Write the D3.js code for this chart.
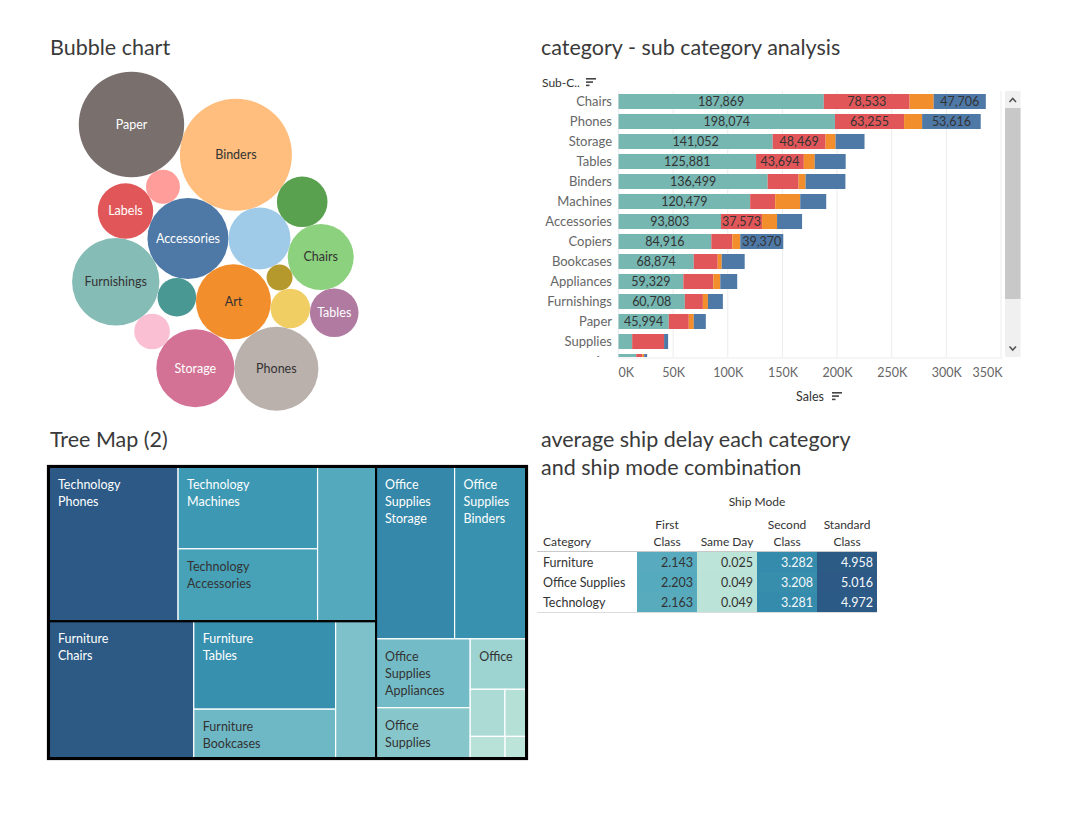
<!DOCTYPE html>
<html><head><meta charset="utf-8">
<script src="https://cdn.jsdelivr.net/npm/d3@7"></script>
<style>body{margin:0;background:#fff;}</style>
</head><body>
<svg id="c" width="1078" height="824"></svg>
<script>
// ---------------- DATA ----------------
const subCategories = ["Accessories","Appliances","Art","Binders","Bookcases","Chairs","Copiers","Envelopes","Fasteners","Furnishings","Labels","Machines","Paper","Phones","Storage","Supplies","Tables"];
const subCategoryParent = ["Technology","Office Supplies","Office Supplies","Office Supplies","Furniture","Furniture","Technology","Office Supplies","Office Supplies","Furniture","Office Supplies","Technology","Office Supplies","Technology","Office Supplies","Office Supplies","Furniture"];
// bubble size measure
const bubbleSizes = [797,467,683,1523,311,529,82,190,181,927,373,140,1349,857,739,154,287];
// treemap size measure (sales, read from tile areas)
const subCategorySales = [167380,107532,27119,203413,114880,328449,149528,16476,7500,91705,12486,189239,78479,330007,223844,46674,206966];
const categoryNames = ["Furniture","Office Supplies","Technology"];

const barCategories = ["Chairs","Phones","Storage","Tables","Binders","Machines","Accessories","Copiers","Bookcases","Appliances","Furnishings","Paper","Supplies","Art"];
const shipModeStack = ["Standard Class","Second Class","Same Day","First Class"];
const standardClassSales = [187869,198074,141052,125881,136499,120479,93803,84916,68874,59329,60708,45994,12500,16200];
const secondClassSales   = [78533,63255,48469,43694,28300,22900,37573,19200,21900,27400,16500,18300,29200,5500];
const sameDaySales       = [22000,16500,9100,10000,6400,22900,13700,7300,3700,6400,4600,4600,0,1800];
const firstClassSales    = [47706,53616,26500,28300,36432,23800,22900,39370,21000,15500,13700,11000,3700,2700];
const salesTicks = [0,50000,100000,150000,200000,250000,300000,350000];

const shipModes = ["First Class","Same Day","Second Class","Standard Class"];
const delayFurniture = [2.143,0.025,3.282,4.958];
const delayOfficeSupplies = [2.203,0.049,3.208,5.016];
const delayTechnology = [2.163,0.049,3.281,4.972];

// ---------------- STYLE ----------------
const FONT = "Lato, 'Noto Sans', sans-serif";
const tableau20 = ["#4e79a7","#a0cbe8","#f28e2b","#ffbe7d","#59a14f","#8cd17d","#b6992d","#f1ce63","#499894","#86bcb6","#e15759","#ff9d9a","#79706e","#bab0ac","#d37295","#fabfd2","#b07aa1"];
const shipColors = {"Standard Class":"#76b7b2","Second Class":"#e15759","Same Day":"#f28e2b","First Class":"#4e79a7"};
const blueTeal = ["#bce4d8","#aedcd5","#a1d5d2","#95cecf","#89c8cc","#7ec1ca","#72bac6","#66b2c2","#59acbe","#4ba5ba","#419eb6","#3b96b2","#358ead","#3586a7","#347ea1","#32779b","#316f96","#2f6790","#2d608a","#2c5985"];
const blueTealInterp = d3.interpolateRgbBasis(blueTeal);

const svg = d3.select("#c").style("font-family", FONT);
function measure(t, size) {
  const el = svg.append("text").attr("font-size", size).attr("font-family", FONT).text(t);
  const w = el.node().getComputedTextLength(); el.remove(); return w;
}

// ---------------- TITLES ----------------
const titleG = svg.append("g").attr("font-size", 21.5).attr("fill", "#3a3a3a");
titleG.append("text").attr("x", 50).attr("y", 55).text("Bubble chart");
titleG.append("text").attr("x", 541).attr("y", 55).text("category - sub category analysis");
titleG.append("text").attr("x", 50).attr("y", 447).text("Tree Map (2)");
titleG.append("text").attr("x", 541).attr("y", 447).text("average ship delay each category");
titleG.append("text").attr("x", 541).attr("y", 475).text("and ship mode combination");

// ---------------- BUBBLE CHART ----------------
// front-chain circle packing (Wang et al.): each circle, in data order, is placed tangent to
// the chain circle nearest the origin and its successor.
function frontChainPack(circles) {
  const n = circles.length;
  const intersects = (a, b) => { const dr = a.r + b.r - 1e-6, dx = b.x - a.x, dy = b.y - a.y; return dr > 0 && dr * dr > dx * dx + dy * dy; };
  const place = (m, nn, c) => {
    const dx = nn.x - m.x, dy = nn.y - m.y, D = Math.hypot(dx, dy);
    const ux = dx / D, uy = dy / D;
    const dm = m.r + c.r, dn = nn.r + c.r;
    const a = (dm * dm - dn * dn + D * D) / (2 * D);
    const h = Math.sqrt(Math.max(0, dm * dm - a * a));
    c.x = m.x + a * ux - h * uy;
    c.y = m.y + a * uy + h * ux;
  };
  const A = circles[0]; A.x = -A.r; A.y = 0;
  if (n < 2) return;
  const B = circles[1]; B.x = B.r; B.y = 0;
  if (n < 3) return;
  const C = circles[2]; place(A, B, C);
  let a = {_: A}, b = {_: B}, c = {_: C};
  a.next = c; c.next = b; b.next = a;
  a.previous = b; c.previous = a; b.previous = c;
  const pickNearest = () => {
    let best = a, bd = Infinity, node = a;
    do { const d = node._.x * node._.x + node._.y * node._.y; if (d < bd) { bd = d; best = node; } node = node.next; } while (node !== a);
    return best;
  };
  let m = pickNearest();
  for (let i = 3; i < n; ++i) {
    const cc = circles[i];
    let nn = m.next;
    while (true) {
      place(m._, nn._, cc);
      let j = nn.next, k = m.previous, sj = nn._.r, sk = m._.r, hit = false;
      while (j !== m && k !== nn && j !== k.next) {
        if (sj <= sk) {
          if (intersects(j._, cc)) { nn = j; m.next = nn; nn.previous = m; hit = true; break; }
          sj += j._.r; j = j.next;
        } else {
          if (intersects(k._, cc)) { m = k; m.next = nn; nn.previous = m; hit = true; break; }
          sk += k._.r; k = k.previous;
        }
      }
      if (!hit) {
        let bad = null, node = nn.next;
        while (node !== m) { if (intersects(node._, cc)) { bad = node; break; } node = node.next; }
        if (bad) { nn = bad; m.next = nn; nn.previous = m; continue; }
        break;
      }
    }
    const node = {_: cc, previous: m, next: nn};
    m.next = node; nn.previous = node;
    a = node;
    m = pickNearest();
  }
}

(function(){
  const rScale = d3.scaleSqrt().domain([0, d3.max(bubbleSizes)]).range([0, 56]);
  const nodes = subCategories.map((name, i) => ({name, value: bubbleSizes[i], r: rScale(bubbleSizes[i]), color: tableau20[i]}));
  frontChainPack(nodes);
  const x0 = d3.min(nodes, d => d.x - d.r), x1 = d3.max(nodes, d => d.x + d.r);
  const y0 = d3.min(nodes, d => d.y - d.r), y1 = d3.max(nodes, d => d.y + d.r);
  const g = svg.append("g").attr("transform", `translate(${215.3 - (x0 + x1) / 2},${241.3 - (y0 + y1) / 2})`);
  const gs = g.selectAll("g").data(nodes).join("g").attr("transform", d => `translate(${d.x},${d.y})`);
  gs.append("circle").attr("r", d => d.r).attr("fill", d => d.color);
  gs.each(function(d){
    const w = measure(d.name, 12.5);
    if (w <= 2 * d.r - 6) {
      d3.select(this).append("text").attr("text-anchor", "middle").attr("dy", "0.35em")
        .attr("font-size", 12.5)
        .attr("fill", d3.lab(d.color).l < 65 ? "#ffffff" : "#333333")
        .text(d.name);
    }
  });
})();

// ---------------- STACKED BAR CHART ----------------
(function(){
  const rows = barCategories.map((c, i) => ({
    cat: c,
    "Standard Class": standardClassSales[i],
    "Second Class": secondClassSales[i],
    "Same Day": sameDaySales[i],
    "First Class": firstClassSales[i]
  }));
  const x = d3.scaleLinear().domain([0, 350000]).range([618.5, 1001]);
  const y = d3.scaleBand().domain(barCategories).range([91.5, 371.5]).paddingInner(0.25).paddingOuter(0.125);
  const stack = d3.stack().keys(shipModeStack)(rows);

  svg.append("text").attr("x", 542).attr("y", 87).attr("font-size", 12).attr("fill", "#333").text("Sub-C..");
  const sortIcon = (x0, y0) => {
    [10, 7, 3.5].forEach((w, k) => svg.append("rect").attr("x", x0).attr("y", y0 + k * 3.3).attr("width", w).attr("height", 1.6).attr("fill", "#444"));
  };
  sortIcon(586, 78);

  svg.append("defs").append("clipPath").attr("id", "barclip").append("rect").attr("x", 530).attr("y", 91).attr("width", 474).attr("height", 266);

  svg.append("g").selectAll("line").data(salesTicks).join("line")
    .attr("x1", d => x(d)).attr("x2", d => x(d)).attr("y1", 91).attr("y2", 357)
    .attr("stroke", "#ececec").attr("stroke-width", 1);
  svg.append("line").attr("x1", 618).attr("x2", 1003).attr("y1", 358).attr("y2", 358).attr("stroke", "#ececec");

  const plot = svg.append("g").attr("clip-path", "url(#barclip)");
  plot.selectAll("g.s").data(stack).join("g").attr("class", "s").attr("fill", d => shipColors[d.key])
    .selectAll("rect").data(d => d).join("rect")
    .attr("x", d => x(d[0])).attr("width", d => x(d[1]) - x(d[0]))
    .attr("y", d => y(d.data.cat)).attr("height", y.bandwidth());

  stack.forEach(s => {
    s.forEach(d => {
      const v = d[1] - d[0];
      const w = x(d[1]) - x(d[0]);
      const t = d3.format(",")(v);
      if (v > 0 && w >= measure(t, 12.5) + 1) {
        plot.append("text").attr("x", (x(d[0]) + x(d[1])) / 2).attr("y", y(d.data.cat) + y.bandwidth() / 2)
          .attr("dy", "0.36em").attr("text-anchor", "middle").attr("font-size", 12.5).attr("fill", "#333").text(t);
      }
    });
  });
  plot.selectAll("text.cat").data(barCategories).join("text").attr("class", "cat")
    .attr("x", 612).attr("y", d => y(d) + y.bandwidth() / 2).attr("dy", "0.36em")
    .attr("text-anchor", "end").attr("font-size", 13).attr("fill", "#666").text(d => d);

  const axis = svg.append("g").attr("transform", "translate(0,366)")
    .call(d3.axisBottom(x).tickValues(salesTicks).tickSize(0).tickFormat(d => d / 1000 + "K"));
  axis.select(".domain").remove();
  axis.selectAll("text").attr("font-family", FONT).attr("font-size", 12.5).attr("fill", "#666").attr("dy", "0.71em").attr("y", 2)
    .attr("text-anchor", d => d === 0 ? "start" : d === 350000 ? "end" : "middle")
    .attr("dx", d => d === 0 ? -0.5 : d === 350000 ? 1 : 0);
  svg.append("text").attr("x", 810).attr("y", 401).attr("text-anchor", "middle").attr("font-size", 12.5).attr("fill", "#333").text("Sales");
  sortIcon(832, 392);

  svg.append("rect").attr("x", 1005).attr("y", 91).attr("width", 15.5).attr("height", 266).attr("fill", "#f0f0f0");
  svg.append("rect").attr("x", 1005).attr("y", 108).attr("width", 15.5).attr("height", 191).attr("fill", "#c8c8c8");
  svg.append("path").attr("d", "M1009.5,102 L1012.75,98.5 L1016,102").attr("fill", "none").attr("stroke", "#555").attr("stroke-width", 1.6);
  svg.append("path").attr("d", "M1009.5,346.5 L1012.75,350 L1016,346.5").attr("fill", "none").attr("stroke", "#555").attr("stroke-width", 1.6);
})();

// ---------------- TREEMAP ----------------
(function(){
  const tree = {name: "root", children: categoryNames.map(c => ({
    name: c,
    children: subCategories.map((s, i) => ({name: s, cat: subCategoryParent[i], value: subCategorySales[i]})).filter(d => d.cat === c)
  }))};
  const root = d3.hierarchy(tree).sum(d => d.value || 0).sort((a, b) => b.value - a.value);
  d3.treemap().tile(d3.treemapSquarify.ratio(1.5)).size([477, 291])(root);
  const ext = d3.extent(root.leaves(), d => d.value);
  const tNorm = d3.scaleLinear().domain(ext).range([0, 1]);
  const g = svg.append("g").attr("transform", "translate(49,467)");
  const leaves = root.leaves();
  const lg = g.selectAll("g").data(leaves).join("g");
  lg.append("rect").attr("x", d => d.x0).attr("y", d => d.y0).attr("width", d => d.x1 - d.x0).attr("height", d => d.y1 - d.y0)
    .attr("fill", d => blueTealInterp(tNorm(d.value))).attr("stroke", "#fff").attr("stroke-width", 1.2);
  const fs = 12.5, lh = 17;
  function wrap(text, maxW) {
    const words = text.split(" "); const lines = []; let cur = "";
    words.forEach(w => {
      const test = cur ? cur + " " + w : w;
      if (measure(test, fs) <= maxW || !cur) cur = test; else { lines.push(cur); cur = w; }
    });
    if (cur) lines.push(cur);
    return lines;
  }
  lg.each(function(d){
    const w = d.x1 - d.x0, maxW = w - 14;
    const lines = wrap(d.data.cat, maxW).concat(wrap(d.data.name, maxW));
    const col = tNorm(d.value) > 0.53 ? "#ffffff" : "#333333";
    for (let k = 0; k < lines.length; k++) {
      const by = d.y0 + 22 + k * lh;
      if (measure(lines[k], fs) > maxW) break;
      if (by + 4 > d.y1) break;
      d3.select(this).append("text").attr("x", d.x0 + 9).attr("y", by).attr("font-size", fs).attr("fill", col).text(lines[k]);
    }
  });
  g.selectAll("rect.cat").data(root.children).join("rect").attr("class", "cat")
    .attr("x", d => d.x0).attr("y", d => d.y0).attr("width", d => d.x1 - d.x0).attr("height", d => d.y1 - d.y0)
    .attr("fill", "none").attr("stroke", "#000").attr("stroke-width", 2);
  g.append("rect").attr("x", -1).attr("y", -1).attr("width", 479).attr("height", 293).attr("fill", "none").attr("stroke", "#000").attr("stroke-width", 2.2);
})();

// ---------------- HIGHLIGHT TABLE ----------------
(function(){
  const values = [delayFurniture, delayOfficeSupplies, delayTechnology];
  const all = values.flat();
  const tNorm = d3.scaleLinear().domain(d3.extent(all)).range([0, 1]);
  const xCol = d3.scaleBand().domain(shipModes).range([637, 877]);
  const yRow = d3.scaleBand().domain(categoryNames).range([552, 612]);
  const g = svg.append("g");
  g.append("text").attr("x", 757).attr("y", 506).attr("text-anchor", "middle").attr("font-size", 12).attr("fill", "#333").text("Ship Mode");
  shipModes.forEach(m => {
    const parts = m === "Same Day" ? ["", m] : m.split(" ");
    parts.forEach((p, k) => {
      if (p) g.append("text").attr("x", xCol(m) + xCol.bandwidth() / 2).attr("y", 529 + k * 17).attr("text-anchor", "middle").attr("font-size", 12).attr("fill", "#333").text(p);
    });
  });
  g.append("text").attr("x", 543).attr("y", 546).attr("font-size", 12).attr("fill", "#333").text("Category");
  categoryNames.forEach((c, i) => {
    g.append("text").attr("x", 543).attr("y", yRow(c) + 10).attr("dy", "0.36em").attr("font-size", 12.5).attr("fill", "#333").text(c);
    shipModes.forEach((m, j) => {
      const v = values[i][j];
      g.append("rect").attr("x", xCol(m)).attr("y", yRow(c)).attr("width", xCol.bandwidth()).attr("height", yRow.bandwidth())
        .attr("fill", blueTealInterp(tNorm(v)));
      g.append("text").attr("x", xCol(m) + xCol.bandwidth() - 4).attr("y", yRow(c) + 10).attr("dy", "0.36em")
        .attr("text-anchor", "end").attr("font-size", 12.5).attr("fill", tNorm(v) > 0.53 ? "#f4f8fb" : "#333").text(d3.format(".3f")(v));
    });
  });
  g.append("line").attr("x1", 537).attr("x2", 877).attr("y1", 551.5).attr("y2", 551.5).attr("stroke", "#c8c8c8");
  g.append("line").attr("x1", 537).attr("x2", 877).attr("y1", 612.5).attr("y2", 612.5).attr("stroke", "#dcdcdc");
})();
</script>
</body></html>
